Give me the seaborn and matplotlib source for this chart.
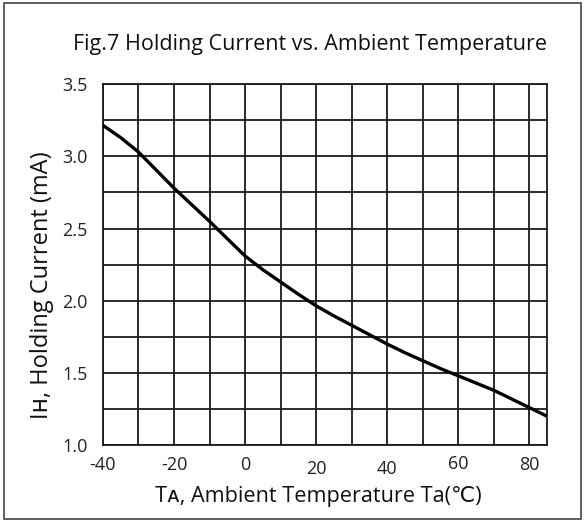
import matplotlib
matplotlib.use("Agg")
import matplotlib.pyplot as plt
import matplotlib.transforms as mtransforms
import seaborn as sns
import pandas as pd

# Holding current vs ambient temperature
temperature = [-40, -35, -30, -25, -20, -15, -10, -5, 0, 5, 10, 15, 20,
               25, 30, 35, 40, 45, 50, 55, 60, 65, 70, 75, 80, 85]
holding_current = [3.215, 3.13, 3.03, 2.905, 2.78, 2.665, 2.55, 2.43, 2.31, 2.215,
                   2.13, 2.045, 1.965, 1.895, 1.83, 1.765, 1.70, 1.64, 1.585,
                   1.53, 1.48, 1.43, 1.38, 1.32, 1.26, 1.20]
x_ticks = [-40, -20, 0, 20, 40, 60, 80]
y_ticks = [1.0, 1.5, 2.0, 2.5, 3.0, 3.5]
x_grid = [-40, -30, -20, -10, 0, 10, 20, 30, 40, 50, 60, 70, 80]
y_grid = [1.0, 1.25, 1.5, 1.75, 2.0, 2.25, 2.5, 2.75, 3.0, 3.25, 3.5]

df = pd.DataFrame({"temp": temperature, "ih": holding_current})

sns.set_style("white")
# DejaVu Sans fills in the small-caps letters and the degree-Celsius sign
plt.rcParams['font.family'] = ['Open Sans', 'DejaVu Sans']
plt.rcParams['axes.unicode_minus'] = False

fig = plt.figure(figsize=(5.85, 5.23), dpi=100)
ax = fig.add_axes([0.176, 0.149, 0.759, 0.690])

# grid drawn by hand so lines sit at every 10 degC / 0.25 mA
for gx in x_grid:
    ax.axvline(gx, color='#1a1a1a', lw=1.3, zorder=1)
for gy in y_grid:
    ax.axhline(gy, color='#1a1a1a', lw=1.3, zorder=1)

sns.lineplot(data=df, x="temp", y="ih", color='black', linewidth=2.4, ax=ax, zorder=3)

ax.set_xlim(-40, 85)
ax.set_ylim(1.0, 3.5)
ax.set_xticks(x_ticks)
ax.set_yticks(y_ticks)
ax.set_yticklabels([f"{v:.1f}" for v in y_ticks])
ax.tick_params(axis='x', length=0, labelsize=13, colors='#222222', pad=8)
ax.tick_params(axis='y', length=0, labelsize=13, colors='#222222', pad=11)
for s in ax.spines.values():
    s.set_color('#1a1a1a')
    s.set_linewidth(1.3)

# in the original the 20 and 40 labels sit a bit lower than the rest
offsets = {-40: 0, -20: 0, 0: 0, 20: -2.4, 40: -2.4, 60: 0.7, 80: 0}
for lab, t in zip(ax.get_xticklabels(), x_ticks):
    lab.set_transform(lab.get_transform() +
                      mtransforms.ScaledTranslation(0, offsets[t] / 72, fig.dpi_scale_trans))

ax.set_xlabel("Tᴀ, Ambient Temperature Ta(℃)", fontsize=15.6, color='#111111', labelpad=6)
ax.xaxis.label.set_x(0.486)
ax.set_ylabel("Iʜ, Holding Current (mA)", fontsize=17, color='#111111')
ax.yaxis.set_label_coords(-0.11, 0.443)
fig.text(0.53, 0.914, "Fig.7 Holding Current vs. Ambient Temperature",
         ha='center', va='center', fontsize=15.5, color='#111111')

# frame around the whole figure
fig.patches.append(plt.Rectangle((0.007, 0.008), 0.986, 0.986, transform=fig.transFigure,
                                 fill=False, edgecolor='#444444', lw=1.2))

fig.savefig("out.png", dpi=100)
